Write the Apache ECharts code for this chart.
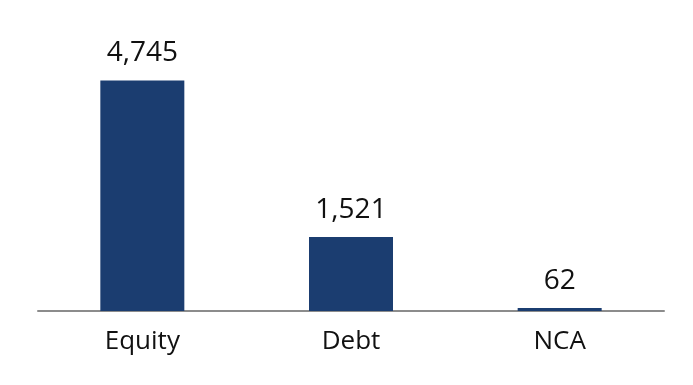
<!DOCTYPE html>
<html>
<head>
<meta charset="utf-8">
<script src="https://cdn.jsdelivr.net/npm/echarts@6/dist/echarts.min.js"></script>
<style>html,body{margin:0;padding:0;background:#fff}#c{width:693px;height:385px}</style>
</head>
<body>
<div id="c"></div>
<script>
var categories = ['Equity', 'Debt', 'NCA'];
var values = [4745, 1521, 62];

var chart = echarts.init(document.getElementById('c'), null, {renderer: 'canvas'});
chart.setOption({
  animation: false,
  grid: {left: 38, right: 29, top: 68, bottom: 74, containLabel: false},
  xAxis: {
    type: 'category',
    data: categories,
    axisLine: {lineStyle: {color: '#8c8c8c', width: 2}},
    axisTick: {show: false},
    axisLabel: {color: '#111', fontSize: 26, fontFamily: 'Open Sans', margin: 18}
  },
  yAxis: {
    type: 'value', min: 0, max: 5000,
    show: false
  },
  series: [{
    type: 'bar',
    data: values,
    barWidth: 84,
    itemStyle: {color: '#1b3d70'},
    label: {
      show: true, position: 'top', distance: 13,
      color: '#111', fontSize: 28, fontFamily: 'Open Sans',
      formatter: function (p) { return p.value.toLocaleString('en-US'); }
    }
  }]
});
</script>
</body>
</html>
